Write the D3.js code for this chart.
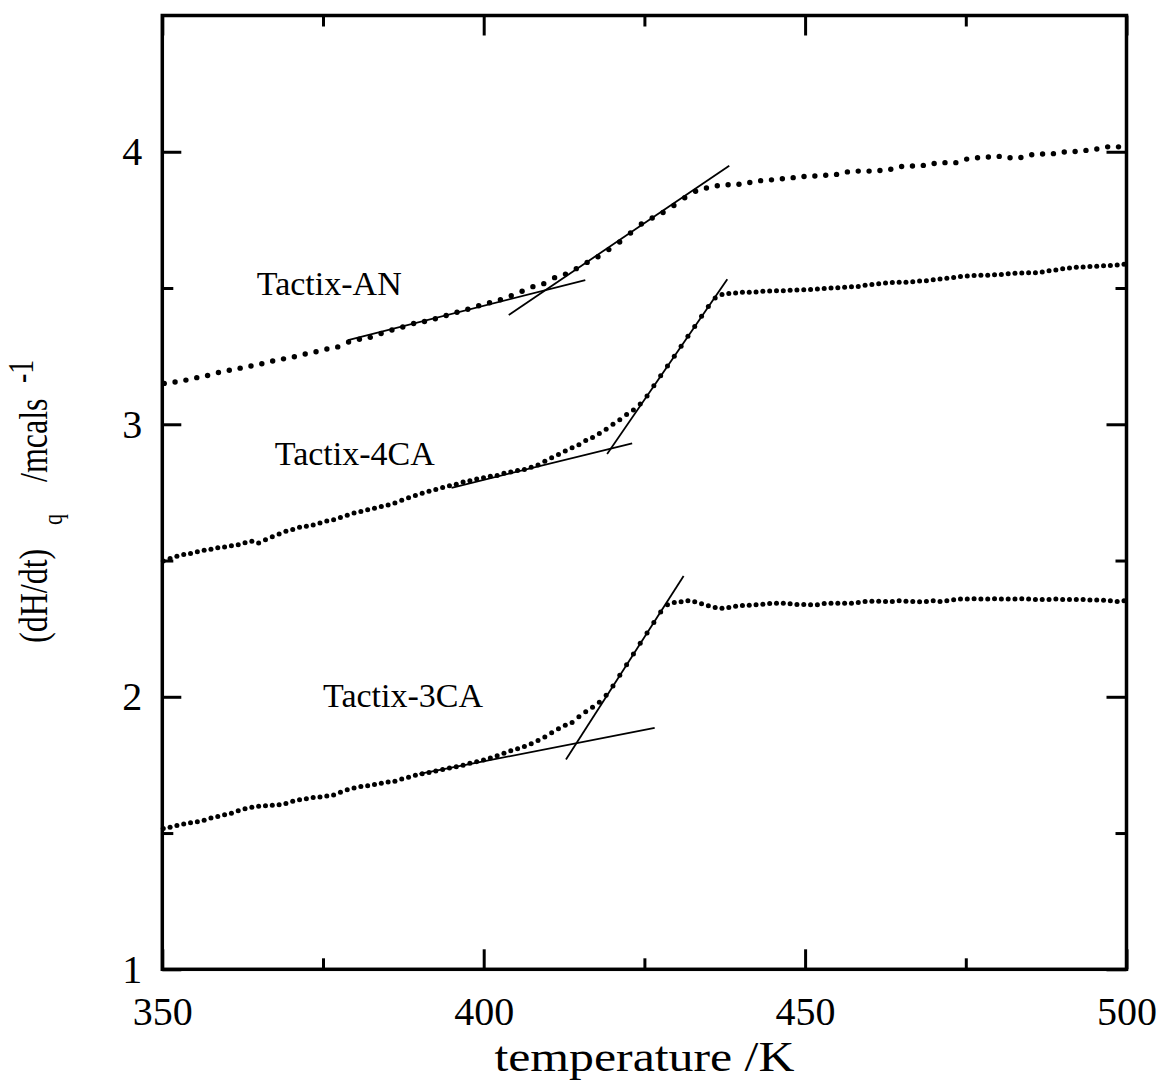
<!DOCTYPE html>
<html>
<head>
<meta charset="utf-8">
<script src="https://cdn.jsdelivr.net/npm/d3@7"></script>
<style>
  body { margin: 0; background: #fff; }
  svg { display: block; }
  text { font-family: "Liberation Serif", "Times New Roman", serif; fill: #000; }
</style>
</head>
<body>
<div id="chart"></div>
<script>
//////////DATA//////////
// Tactix-AN : regular temperature grid (start, step in K) + read values
const anStartT = 350.3;
const anStepT = 1.687;
const anValues = [
  3.150, 3.155, 3.162, 3.171, 3.179, 3.190, 3.198, 3.206, 3.214, 3.222,
  3.232, 3.240, 3.248, 3.258, 3.266, 3.276, 3.284, 3.302, 3.312, 3.319,
  3.333, 3.346, 3.357, 3.370, 3.377, 3.387, 3.399, 3.411, 3.422, 3.435,
  3.446, 3.457, 3.472, 3.488, 3.505, 3.516, 3.538, 3.551, 3.571, 3.594,
  3.615, 3.641, 3.669, 3.702, 3.735, 3.757, 3.777, 3.803, 3.831, 3.855,
  3.867, 3.875, 3.879, 3.881, 3.887, 3.894, 3.897, 3.901, 3.905, 3.909,
  3.911, 3.914, 3.917, 3.926, 3.929, 3.929, 3.931, 3.936, 3.946, 3.948,
  3.950, 3.957, 3.960, 3.960, 3.973, 3.978, 3.981, 3.983, 3.978, 3.979,
  3.989, 3.992, 3.993, 3.999, 4.001, 4.005, 4.010, 4.018, 4.018
];

// Tactix-4CA and Tactix-3CA share a finer grid
const caStartT = 350.15;
const caStepT = 1.06;
const ca4Values = [
  2.498, 2.507, 2.516, 2.522, 2.526, 2.532, 2.538, 2.541, 2.547, 2.550,
  2.554, 2.558, 2.565, 2.571, 2.564, 2.576, 2.587, 2.597, 2.607, 2.614,
  2.622, 2.626, 2.630, 2.638, 2.645, 2.650, 2.658, 2.666, 2.674, 2.680,
  2.686, 2.692, 2.698, 2.704, 2.711, 2.721, 2.730, 2.739, 2.747, 2.754,
  2.761, 2.768, 2.774, 2.780, 2.788, 2.793, 2.799, 2.804, 2.809, 2.812,
  2.820, 2.825, 2.830, 2.834, 2.842, 2.851, 2.864, 2.877, 2.889, 2.902,
  2.914, 2.925, 2.940, 2.951, 2.966, 2.982, 3.000, 3.017, 3.036, 3.052,
  3.074, 3.104, 3.141, 3.178, 3.214, 3.250, 3.286, 3.323, 3.359, 3.396,
  3.432, 3.463, 3.476, 3.480, 3.482, 3.484, 3.484, 3.485, 3.488, 3.489,
  3.490, 3.490, 3.492, 3.493, 3.494, 3.495, 3.496, 3.498, 3.500, 3.501,
  3.503, 3.505, 3.506, 3.510, 3.513, 3.516, 3.518, 3.520, 3.521, 3.521,
  3.523, 3.526, 3.527, 3.530, 3.533, 3.536, 3.539, 3.542, 3.544, 3.546,
  3.547, 3.547, 3.549, 3.550, 3.552, 3.554, 3.555, 3.556, 3.556, 3.559,
  3.563, 3.566, 3.571, 3.573, 3.576, 3.577, 3.579, 3.580, 3.582, 3.583,
  3.584, 3.587
];
const ca3Values = [
  1.517, 1.521, 1.528, 1.533, 1.538, 1.541, 1.547, 1.555, 1.561, 1.567,
  1.573, 1.582, 1.589, 1.595, 1.598, 1.600, 1.602, 1.604, 1.608, 1.617,
  1.622, 1.626, 1.630, 1.632, 1.636, 1.640, 1.650, 1.659, 1.665, 1.671,
  1.674, 1.678, 1.683, 1.687, 1.690, 1.698, 1.705, 1.712, 1.718, 1.722,
  1.728, 1.733, 1.739, 1.743, 1.749, 1.756, 1.762, 1.768, 1.775, 1.784,
  1.793, 1.802, 1.809, 1.818, 1.828, 1.840, 1.852, 1.868, 1.883, 1.896,
  1.906, 1.927, 1.945, 1.962, 1.980, 2.006, 2.040, 2.079, 2.118, 2.157,
  2.196, 2.234, 2.273, 2.311, 2.338, 2.346, 2.349, 2.352, 2.349, 2.341,
  2.334, 2.328, 2.325, 2.328, 2.332, 2.335, 2.336, 2.338, 2.340, 2.342,
  2.343, 2.343, 2.341, 2.339, 2.339, 2.338, 2.338, 2.342, 2.343, 2.343,
  2.343, 2.343, 2.346, 2.350, 2.351, 2.351, 2.350, 2.350, 2.352, 2.351,
  2.350, 2.349, 2.350, 2.352, 2.350, 2.352, 2.356, 2.359, 2.359, 2.360,
  2.359, 2.359, 2.360, 2.359, 2.359, 2.359, 2.360, 2.359, 2.357, 2.357,
  2.357, 2.359, 2.357, 2.357, 2.357, 2.357, 2.355, 2.355, 2.354, 2.352,
  2.350, 2.352
];

// tangent lines: [T1, v1, T2, v2]
const tangentLines = [
  [378.9, 3.309, 415.8, 3.529], // AN below Tg
  [403.9, 3.401, 438.2, 3.949], // AN transition
  [395.0, 2.767, 423.1, 2.930], // 4CA below Tg
  [419.2, 2.891, 437.9, 3.532], // 4CA transition
  [390.0, 1.717, 426.6, 1.886], // 3CA below Tg
  [412.8, 1.770, 431.1, 2.443], // 3CA transition
];

const seriesLabels = ["Tactix-AN", "Tactix-4CA", "Tactix-3CA"];
const labelAnchors = [[364.7, 3.474], [367.5, 2.850], [375.0, 1.962]];

const xMajorTicks = [350, 400, 450, 500];
const xMinorTicks = [375, 425, 475];
const yMajorTicks = [1, 2, 3, 4];
const yMinorTicks = [1.5, 2.5, 3.5];

//////////CODE//////////
const svgObj = { width: 1160, height: 1080 };
const plotObj = { left: 162.3, right: 1126.5, top: 15.5, bottom: 969.3 };
plotObj.width = plotObj.right - plotObj.left;
plotObj.height = plotObj.bottom - plotObj.top;

const x = d3.scaleLinear().domain([350, 500]).range([plotObj.left, plotObj.right]);
const y = d3.scaleLinear().domain([1, 4.5]).range([plotObj.bottom, plotObj.top]);

const svg = d3
  .select("#chart")
  .append("svg")
  .attr("width", svgObj.width)
  .attr("height", svgObj.height);

svg.append("rect").attr("width", svgObj.width).attr("height", svgObj.height).attr("fill", "#fff");

// ticks pointing inward on all four sides
const tickStyle = (g, width) => {
  g.select(".domain").remove();
  g.selectAll(".tick line").attr("stroke", "#000").attr("stroke-width", width);
};

const addAxis = (axis, tx, ty, width, labels) => {
  const g = svg.append("g").attr("transform", `translate(${tx},${ty})`).call(axis);
  tickStyle(g, width);
  if (!labels) g.selectAll(".tick text").remove();
  return g;
};

const bottomMajor = addAxis(
  d3.axisBottom(x).tickValues(xMajorTicks).tickSize(-20).tickFormat(d3.format("d")),
  0, plotObj.bottom, 3, true
);
bottomMajor
  .selectAll(".tick text")
  .attr("y", 56)
  .attr("dy", 0)
  .attr("font-size", 40)
  .attr("font-family", "Liberation Serif");
addAxis(d3.axisBottom(x).tickValues(xMinorTicks).tickSize(-11), 0, plotObj.bottom, 3, false);
addAxis(d3.axisTop(x).tickValues(xMajorTicks).tickSize(-20), 0, plotObj.top, 3, false);
addAxis(d3.axisTop(x).tickValues(xMinorTicks).tickSize(-11), 0, plotObj.top, 3, false);

const leftMajor = addAxis(
  d3.axisLeft(y).tickValues(yMajorTicks).tickSize(-19).tickFormat(d3.format("d")),
  plotObj.left, 0, 3, true
);
leftMajor
  .selectAll(".tick text")
  .attr("x", -20)
  .attr("font-size", 40)
  .attr("font-family", "Liberation Serif");
addAxis(d3.axisLeft(y).tickValues(yMinorTicks).tickSize(-11), plotObj.left, 0, 3, false);
addAxis(d3.axisRight(y).tickValues(yMajorTicks).tickSize(-20), plotObj.right, 0, 3, false);
addAxis(d3.axisRight(y).tickValues(yMinorTicks).tickSize(-11), plotObj.right, 0, 3, false);

// frame
svg
  .append("rect")
  .attr("x", plotObj.left)
  .attr("y", plotObj.top)
  .attr("width", plotObj.width)
  .attr("height", plotObj.height)
  .attr("fill", "none")
  .attr("stroke", "#000")
  .attr("stroke-width", 3.5);

// tangent lines
svg
  .append("g")
  .selectAll("line")
  .data(tangentLines)
  .join("line")
  .attr("x1", (d) => x(d[0]))
  .attr("y1", (d) => y(d[1]))
  .attr("x2", (d) => x(d[2]))
  .attr("y2", (d) => y(d[3]))
  .attr("stroke", "#000")
  .attr("stroke-width", 1.8);

// dotted data
const drawDots = (values, startT, stepT, r) => {
  svg
    .append("g")
    .selectAll("circle")
    .data(values)
    .join("circle")
    .attr("cx", (d, i) => x(startT + i * stepT))
    .attr("cy", (d) => y(d))
    .attr("r", r)
    .attr("fill", "#000");
};
drawDots(anValues, anStartT, anStepT, 2.7);
drawDots(ca4Values, caStartT, caStepT, 2.5);
drawDots(ca3Values, caStartT, caStepT, 2.5);

// series labels
svg
  .append("g")
  .selectAll("text")
  .data(seriesLabels)
  .join("text")
  .attr("x", (d, i) => x(labelAnchors[i][0]))
  .attr("y", (d, i) => y(labelAnchors[i][1]))
  .attr("font-size", 34)
  .text((d) => d);

// axis titles
svg
  .append("text")
  .attr("x", (plotObj.left + plotObj.right) / 2)
  .attr("y", 1071)
  .attr("text-anchor", "middle")
  .attr("font-size", 43)
  .attr("textLength", 300)
  .attr("lengthAdjust", "spacingAndGlyphs")
  .text("temperature /K");

// y title: glyphs are taller than the run length suggests, hence the stretch
const yTitle = svg
  .append("text")
  .attr("transform", "translate(47,643) rotate(-90) scale(1,1.25)")
  .attr("font-size", 32);
yTitle.append("tspan").attr("x", 0).text("(dH/dt)");
yTitle.append("tspan").attr("x", 118).attr("dy", 12).attr("font-size", 22).text("q");
yTitle.append("tspan").attr("x", 161).attr("dy", -12).text("/mcals");
yTitle.append("tspan").attr("x", 260).attr("dy", -11).attr("font-size", 28).text("-1");
</script>
</body>
</html>
